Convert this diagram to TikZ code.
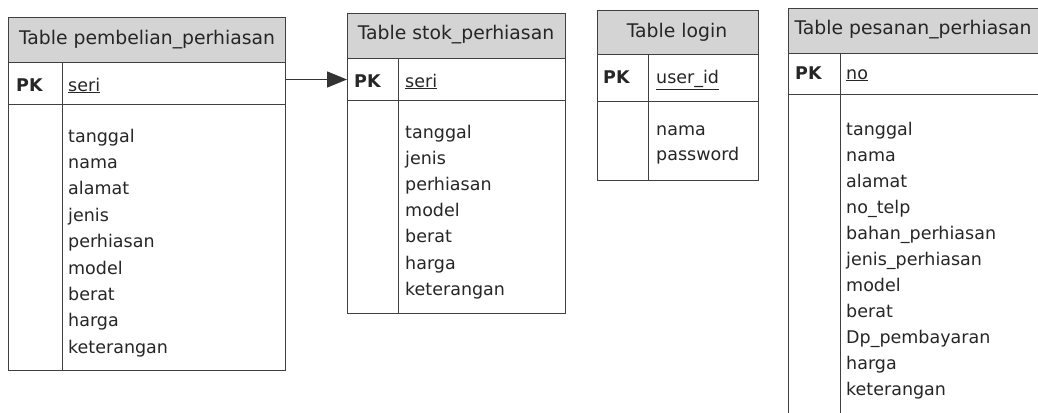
\documentclass[tikz,border=0pt]{standalone}
\usepackage{fontspec}
\setmainfont{DejaVu Sans}
\usetikzlibrary{arrows.meta}
\tikzset{
  box/.style={draw=black!75, line width=1pt, inner sep=0pt, anchor=north west},
  hdr/.style={box, fill=black!17},
  hdrtext/.style={text=black!85, inner sep=0pt, font=\fontsize{18.8}{20}\selectfont},
  cell/.style={box, fill=white},
  lbl/.style={inner sep=0pt, anchor=base west, text=black!85, font=\fontsize{17.5}{20}\selectfont},
  pk/.style={lbl, font=\fontsize{17.5}{20}\selectfont\bfseries},
  divider/.style={draw=black!75, line width=1pt},
  link/.style={draw=black!80, line width=1.4pt, -{Triangle[length=20pt,width=16pt]}}
}
\begin{document}
\begin{tikzpicture}[x=1pt,y=-1pt]
\useasboundingbox (0,0) rectangle (1038,412);
\clip (0,0) rectangle (1038,412);

% ---------- Table 1 ----------
\node[hdr, minimum width=277pt, minimum height=45pt] (t1h) at (8,17) {};
\node[hdrtext] (t1ht) at (147,40) {Table pembelian\_perhiasan};
\node[cell, minimum width=277pt, minimum height=42pt] (t1pk) at (8,62) {};
\node[cell, minimum width=277pt, minimum height=266pt] (t1b) at (8,104) {};
\draw[divider] ([xshift=54pt]t1pk.north west) -- ([xshift=54pt]t1b.south west);
\node[pk] (t1pkl) at (16,91) {PK};
\node[lbl] (t1key) at (68,91) {\underline{seri}};
\foreach \t [count=\i] in {tanggal,nama,alamat,jenis,perhiasan,model,berat,harga,keterangan}
  \node[lbl] (t1a\i) at (68,{142+(\i-1)*26.4}) {\t};

% ---------- Table 2 ----------
\node[hdr, minimum width=218pt, minimum height=45pt] (t2h) at (347,13) {};
\node[hdrtext] (t2ht) at (456,35) {Table stok\_perhiasan};
\node[cell, minimum width=218pt, minimum height=42pt] (t2pk) at (347,58) {};
\node[cell, minimum width=218pt, minimum height=213pt] (t2b) at (347,100) {};
\draw[divider] ([xshift=51pt]t2pk.north west) -- ([xshift=51pt]t2b.south west);
\node[pk] (t2pkl) at (354,87) {PK};
\node[lbl] (t2key) at (405,87) {\underline{seri}};
\foreach \t [count=\i] in {tanggal,jenis,perhiasan,model,berat,harga,keterangan}
  \node[lbl] (t2a\i) at (405,{138+(\i-1)*26.2}) {\t};

% ---------- Table 3 ----------
\node[hdr, minimum width=161pt, minimum height=44pt] (t3h) at (597,10) {};
\node[hdrtext] (t3ht) at (677,32) {Table login};
\node[cell, minimum width=161pt, minimum height=47pt] (t3pk) at (597,54) {};
\node[cell, minimum width=161pt, minimum height=79pt] (t3b) at (597,101) {};
\draw[divider] ([xshift=51pt]t3pk.north west) -- ([xshift=51pt]t3b.south west);
\node[pk] (t3pkl) at (603,84) {PK};
\node[lbl] (t3key) at (656,84) {\underline{user\_id}};
\node[lbl] (t3a1) at (656,135) {nama};
\node[lbl] (t3a2) at (656,160) {password};

% ---------- Table 4 ----------
\node[hdr, minimum width=262pt, minimum height=45pt] (t4h) at (788,8) {};
\node[hdrtext] (t4ht) at (913,30) {Table pesanan\_perhiasan};
\node[cell, minimum width=262pt, minimum height=41pt] (t4pk) at (788,53) {};
\node[cell, minimum width=262pt, minimum height=331pt] (t4b) at (788,94) {};
\draw[divider] ([xshift=52pt]t4pk.north west) -- ([xshift=52pt]t4b.south west);
\node[pk] (t4pkl) at (795,79) {PK};
\node[lbl] (t4key) at (846,79) {\underline{no}};
\foreach \t [count=\i] in {tanggal,nama,alamat,no\_telp,bahan\_perhiasan,jenis\_perhiasan,model,berat,Dp\_pembayaran,harga,keterangan}
  \node[lbl] (t4a\i) at (846,{135+(\i-1)*26}) {\t};

% ---------- connector ----------
\draw[link] (t1pk.east |- t2pk.west) -- (t2pk.west);
\end{tikzpicture}
\end{document}
